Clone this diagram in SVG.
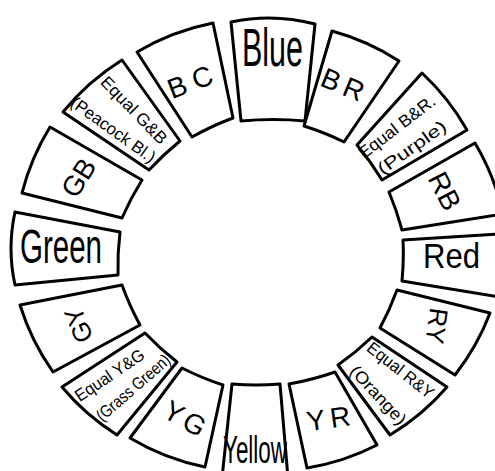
<svg xmlns="http://www.w3.org/2000/svg" width="495" height="471" viewBox="0 0 495 471">
<style>
.box{fill:#fff;stroke:#000;stroke-width:3;stroke-linejoin:round;stroke-linecap:round}
text{font-family:"Liberation Sans",Arial,sans-serif;fill:#000}
.c{text-anchor:middle}
.l2{font-size:28px}
.eq{font-size:17px;text-anchor:middle}
</style>
<rect x="0" y="0" width="495" height="471" fill="#fff"/>
<g id="blue">
<path class="box" d="M231,22 Q273.4,13 315,24 L305,121 Q273.4,118 241,121 Z"/>
<text x="242" y="66" font-size="54" textLength="61" lengthAdjust="spacingAndGlyphs">Blue</text>
</g>
<g id="br">
<path class="box" d="M332,31 Q368.1,40.9 399,61 L344,142 Q324.8,132.5 304,126 Z"/>
<text class="c l2" transform="translate(343 84.3) rotate(22.5)" x="0" y="10" textLength="44" lengthAdjust="spacing">BR</text>
</g>
<g id="equal-br">
<path class="box" d="M422,73 Q448.8,98 467,130 L382,180 Q370.8,161.5 357,145 Z"/>
<text class="eq" transform="translate(396.7 126.7) rotate(-37.6)" x="0" y="6" textLength="92" lengthAdjust="spacingAndGlyphs">Equal B&amp;R.</text>
<text class="eq" transform="translate(411.7 147.3) rotate(-35.4)" x="0" y="6" textLength="80" lengthAdjust="spacingAndGlyphs">(Purple)</text>
</g>
<g id="rb">
<path class="box" d="M475,143 Q494.9,176.6 503,214 L402,230 Q396.8,210.6 389,192 Z"/>
<text class="c l2" transform="translate(445 191) rotate(63)" x="0" y="10" textLength="39" lengthAdjust="spacing">RB</text>
</g>
<g id="red">
<path class="box" d="M500,234 L500,297 L402,281 Q404,260.6 403,240 Z"/>
<text x="423" y="268" font-size="35" textLength="57" lengthAdjust="spacingAndGlyphs">Red</text>
</g>
<g id="ry">
<path class="box" d="M490,313 Q477.5,346.1 455,375 L380,328 Q389.9,309.6 397,290 Z"/>
<text class="c" font-size="26" transform="translate(437 326) rotate(98)" x="0" y="9.3" textLength="36" lengthAdjust="spacing">RY</text>
</g>
<g id="equal-ry">
<path class="box" d="M447,387 Q422.7,415.2 390,435 L338,365 Q356.2,352.2 372,337 Z"/>
<text class="eq" transform="translate(400.7 370) rotate(38.2)" x="0" y="6" textLength="80" lengthAdjust="spacingAndGlyphs">Equal R&amp;Y</text>
<text class="eq" transform="translate(378.3 395) rotate(47)" x="0" y="6" textLength="74" lengthAdjust="spacingAndGlyphs">(Orange)</text>
</g>
<g id="yr">
<path class="box" d="M377,445 Q344.2,461.9 307,468 L289,384 Q312.8,379.8 335,372 Z"/>
<text class="c l2" transform="translate(328.3 418.3) rotate(-8)" x="0" y="10" textLength="44" lengthAdjust="spacing">YR</text>
</g>
<g id="yellow">
<path class="box" d="M288,478 L222,478 L232,384 Q256,386 280,384 Z"/>
<text x="223" y="463" font-size="39" textLength="64" lengthAdjust="spacingAndGlyphs">Yellow</text>
</g>
<g id="yg">
<path class="box" d="M205,467 Q164.6,458.8 130,438 L182,368 Q201.8,378.1 223,385 Z"/>
<text class="c l2" transform="translate(185 418.3) rotate(30)" x="0" y="10" textLength="44" lengthAdjust="spacing">YG</text>
</g>
<g id="equal-yg">
<path class="box" d="M117,435 Q85.3,414.9 62,387 L145,333 Q159.8,348.6 177,362 Z"/>
<text class="eq" transform="translate(109.5 375) rotate(-34)" x="0" y="6" textLength="80" lengthAdjust="spacingAndGlyphs">Equal Y&amp;G</text>
<text class="eq" transform="translate(133 387.5) rotate(-41)" x="0" y="6" textLength="92" lengthAdjust="spacingAndGlyphs">(Grass Green)</text>
</g>
<g id="gy">
<path class="box" d="M53,372 Q31,340.6 20,305 L122,285 Q129.4,305.6 140,325 Z"/>
<text class="c" font-size="26" transform="translate(78.3 325) rotate(-112)" x="0" y="9.3" textLength="36" lengthAdjust="spacing">GY</text>
</g>
<g id="green">
<path class="box" d="M15,285 Q7,248.5 15,212 L120,232 Q117.4,253.5 118,275 Z"/>
<text x="20" y="263" font-size="49" textLength="82" lengthAdjust="spacingAndGlyphs">Green</text>
</g>
<g id="gb">
<path class="box" d="M22,193 Q30.9,157.9 50,127 L142,180 Q130.5,198.4 122,218 Z"/>
<text class="c l2" transform="translate(78.3 177.5) rotate(-58)" x="0" y="10" textLength="40" lengthAdjust="spacing">GB</text>
</g>
<g id="equal-gb">
<path class="box" d="M63,112 Q87.8,81.4 122,60 L180,141 Q163.4,154.4 149,170 Z"/>
<text class="eq" transform="translate(134.2 110) rotate(45.8)" x="0" y="6" textLength="87" lengthAdjust="spacingAndGlyphs">Equal G&amp;B</text>
<text class="eq" transform="translate(113.3 129.5) rotate(35.6)" x="0" y="6" textLength="100" lengthAdjust="spacingAndGlyphs">(Peacock Bl.)</text>
</g>
<g id="bc">
<path class="box" d="M137,52 Q172.4,31 213,23 L233,118 Q211.9,125.8 192,137 Z"/>
<text class="c l2" transform="translate(190 81.7) rotate(-21)" x="0" y="10" textLength="46" lengthAdjust="spacing">BC</text>
</g>
</svg>
